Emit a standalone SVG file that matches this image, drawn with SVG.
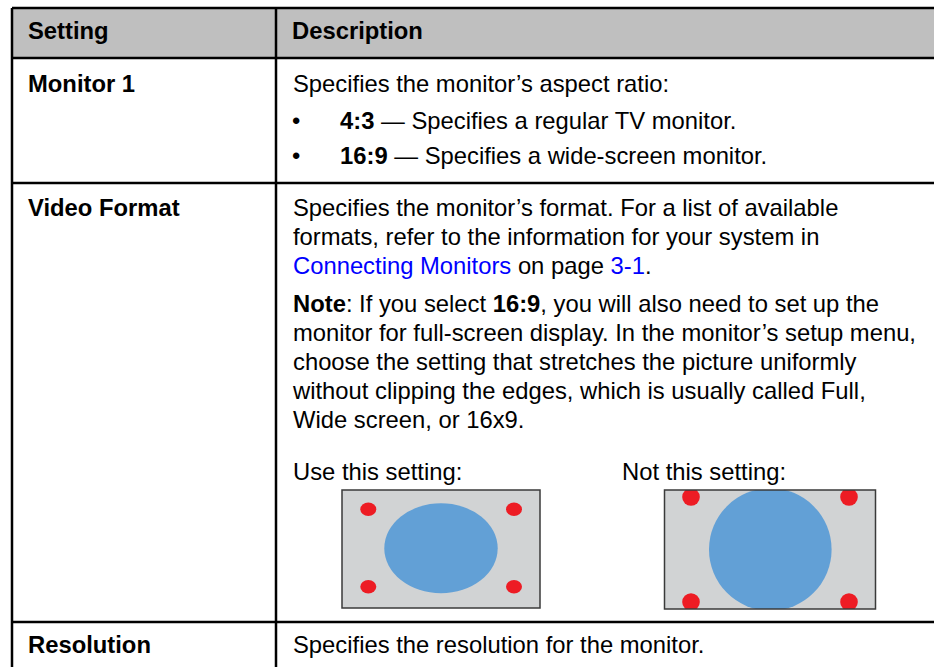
<svg xmlns="http://www.w3.org/2000/svg" width="934" height="667" viewBox="0 0 934 667">
<style>
text{font-family:"Liberation Sans",Arial,sans-serif;font-size:23.8px;fill:#000}
.b{font-weight:bold}
.lnk{fill:#0000ff}
.rule{stroke:#000;stroke-width:2.5;fill:none}
.scr{fill:#d1d3d4;stroke:#3a3a3a;stroke-width:1.5}
.pic{fill:#62a0d6}
.dot{fill:#ed1c24}
</style>
<defs>
<clipPath id="clipB"><rect x="664.5" y="490" width="211" height="119"/></clipPath>
</defs>
<rect x="0" y="0" width="934" height="667" fill="#fff"/>
<g id="header">
<rect x="12" y="8" width="922" height="50" fill="#bfbfbf"/>
<text class="b" x="28" y="39">Setting</text>
<text class="b" x="292" y="39">Description</text>
</g>
<g id="grid">
<line class="rule" x1="12" y1="8" x2="934" y2="8"/>
<line class="rule" x1="12" y1="58" x2="934" y2="58"/>
<line class="rule" x1="12" y1="183" x2="934" y2="183"/>
<line class="rule" x1="12" y1="622" x2="934" y2="622"/>
<line class="rule" x1="12" y1="8" x2="12" y2="667"/>
<line class="rule" x1="276" y1="8" x2="276" y2="667"/>
</g>
<g id="row-monitor1">
<text class="b" x="28" y="91.5">Monitor 1</text>
<text x="293" y="91.5">Specifies the monitor’s aspect ratio:</text>
<text x="292" y="128.5">•</text>
<text x="340" y="128.5"><tspan class="b">4:3</tspan> — Specifies a regular TV monitor.</text>
<text x="292" y="163.5">•</text>
<text x="340" y="163.5"><tspan class="b">16:9</tspan> — Specifies a wide-screen monitor.</text>
</g>
<g id="row-videoformat">
<text class="b" x="28" y="216">Video Format</text>
<text x="293" y="216">Specifies the monitor’s format. For a list of available</text>
<text x="293" y="245">formats, refer to the information for your system in</text>
<text x="293" y="274"><tspan class="lnk">Connecting Monitors</tspan> on page <tspan class="lnk">3-1</tspan>.</text>
<text x="293" y="311.5"><tspan class="b">Note</tspan>: If you select <tspan class="b">16:9</tspan>, you will also need to set up the</text>
<text x="293" y="340.5">monitor for full-screen display. In the monitor’s setup menu,</text>
<text x="293" y="369.5">choose the setting that stretches the picture uniformly</text>
<text x="293" y="398.5">without clipping the edges, which is usually called Full,</text>
<text x="293" y="427.5">Wide screen, or 16x9.</text>
<text x="293" y="480">Use this setting:</text>
<text x="622" y="480">Not this setting:</text>
</g>
<g id="screen-good">
<rect class="scr" x="342" y="490" width="198" height="118"/>
<ellipse class="pic" cx="441" cy="548.3" rx="56.7" ry="45"/>
<ellipse class="dot" cx="368.3" cy="509.3" rx="8" ry="6.7"/>
<ellipse class="dot" cx="514" cy="509.3" rx="8" ry="6.7"/>
<ellipse class="dot" cx="368.3" cy="586.7" rx="8" ry="6.7"/>
<ellipse class="dot" cx="514" cy="586.7" rx="8" ry="6.7"/>
</g>
<g id="screen-bad">
<rect x="664.5" y="490" width="211" height="119" fill="#d1d3d4"/>
<g clip-path="url(#clipB)">
<circle class="pic" cx="770.3" cy="549.5" r="61.3"/>
<circle class="dot" cx="691" cy="497" r="8.8"/>
<circle class="dot" cx="849" cy="497" r="8.8"/>
<circle class="dot" cx="691" cy="602" r="8.8"/>
<circle class="dot" cx="849" cy="602" r="8.8"/>
</g>
<rect x="664.5" y="490" width="211" height="119" fill="none" stroke="#3a3a3a" stroke-width="1.5"/>
</g>
<g id="row-resolution">
<text class="b" x="28" y="653">Resolution</text>
<text x="293" y="653">Specifies the resolution for the monitor.</text>
</g>
</svg>
